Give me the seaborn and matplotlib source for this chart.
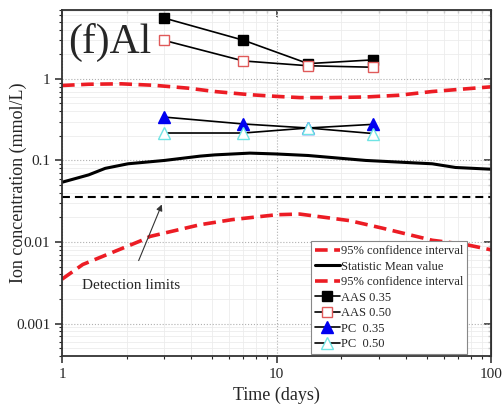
import numpy as np
import pandas as pd
import matplotlib
matplotlib.use("Agg")
import matplotlib.pyplot as plt
import seaborn as sns

# time (days) for the measured series
days = [3, 7, 14, 28]
aas_035 = [5.56, 2.98, 1.54, 1.71]
aas_050 = [2.96, 1.66, 1.45, 1.39]
pc_035 = [0.34, 0.28, 0.25, 0.277]
pc_050 = [0.217, 0.217, 0.25, 0.214]

# statistic mean curve
t_mean = [1, 1.33, 1.59, 2.03, 3.0, 4.4, 5.15, 7.5, 10, 14, 26, 53, 68, 100]
mean_val = [0.054, 0.0665, 0.080, 0.091, 0.100, 0.113, 0.117, 0.123, 0.120, 0.115, 0.100, 0.091, 0.082, 0.078]

# 95% confidence interval, upper
t_up = [1, 1.33, 1.89, 2.7, 3.86, 5.15, 7.5, 10, 12.8, 17.6, 26, 37, 53, 100]
ci_up = [0.83, 0.86, 0.87, 0.834, 0.77, 0.70, 0.64, 0.61, 0.59, 0.59, 0.60, 0.63, 0.70, 0.80]

# 95% confidence interval, lower
t_low = [1, 1.25, 2.38, 2.57, 4.4, 6.2, 10, 12.8, 21.8, 31, 53, 76, 100]
ci_low = [0.0035, 0.0053, 0.0106, 0.0117, 0.0163, 0.0188, 0.0216, 0.022, 0.0183, 0.0148, 0.0105, 0.0093, 0.0080]

detection_limit = 0.036

sns.set_style("ticks")
plt.rcParams['font.family'] = ['Liberation Serif', 'DejaVu Serif']
plt.rcParams['mathtext.fontset'] = 'stix'

fig = plt.figure(figsize=(5.04, 4.09), dpi=100)
ax = fig.add_axes([0.123, 0.1296, 0.852, 0.846])

red = '#ec1c24'
sns.lineplot(x=t_up, y=ci_up, ax=ax, color=red, lw=2.6,
             linestyle=(0, (3.5, 1.8)), sort=False, estimator=None,
             label='95% confidence interval')
sns.lineplot(x=t_mean, y=mean_val, ax=ax, color='black', lw=2.2,
             sort=False, estimator=None, label='Statistic Mean value')
sns.lineplot(x=t_low, y=ci_low, ax=ax, color=red, lw=2.6,
             linestyle=(0, (3.5, 1.8)), sort=False, estimator=None,
             label='95% confidence interval')
ax.axhline(detection_limit, color='black', lw=1.5, linestyle=(0, (3.8, 2.4)))

sns.lineplot(x=days, y=aas_035, ax=ax, color='black', lw=1.2, marker='s',
             markersize=7, mfc='black', mec='black', mew=1.0,
             estimator=None, label='AAS 0.35')
sns.lineplot(x=days, y=aas_050, ax=ax, color='black', lw=1.2, marker='s',
             markersize=7, mfc='white', mec='#e05a5a', mew=1.0,
             estimator=None, label='AAS 0.50')
sns.lineplot(x=days, y=pc_035, ax=ax, color='black', lw=1.2, marker='^',
             markersize=8.5, mfc='#0000f0', mec='#0000f0', mew=1.0,
             estimator=None, label='PC  0.35')
sns.lineplot(x=days, y=pc_050, ax=ax, color='black', lw=1.2, marker='^',
             markersize=8.5, mfc='white', mec='#70e4e4', mew=1.0,
             estimator=None, label='PC  0.50')

ax.set_xscale('log')
ax.set_yscale('log')
ax.set_xlim(1, 100)
ax.set_ylim(4e-4, 7)

ax.set_xticks([1, 10, 100])
ax.set_xticklabels(['1', '10', '100'])
ax.set_yticks([0.001, 0.01, 0.1, 1])
ax.set_yticklabels(['0.001', '0.01', '0.1', '1'])

ax.grid(which='major', color='#b0b0b0', ls=':', lw=0.8)
ax.grid(which='minor', color='#ececec', ls='-', lw=0.6)
ax.set_axisbelow(True)

for s in ax.spines.values():
    s.set_linewidth(1.3)
    s.set_color('#333333')

ax.tick_params(which='major', direction='out', length=5, width=1.1, labelsize=11)
ax.tick_params(which='minor', direction='out', length=2.5, width=0.8)

# inward ticks on the top and right sides
top = ax.secondary_xaxis('top', functions=(lambda v: v, lambda v: v))
top.tick_params(which='major', direction='in', length=5, width=1.1, labeltop=False)
top.tick_params(which='minor', direction='in', length=2.5, width=0.8)
right = ax.secondary_yaxis('right', functions=(lambda v: v, lambda v: v))
right.tick_params(which='major', direction='in', length=5, width=1.1, labelright=False)
right.tick_params(which='minor', direction='in', length=2.5, width=0.8)

ax.set_xlabel('Time (days)', fontsize=13)
ax.set_ylabel('Ion concentration (mmol/L)', fontsize=13)
ax.yaxis.set_label_coords(-0.082, 0.5)

ax.text(0.014, 0.905, '(f)Al', transform=ax.transAxes, fontsize=30,
        ha='left', va='center')

ax.annotate('', xy=(2.95, 0.031), xytext=(2.25, 0.0055),
            arrowprops=dict(arrowstyle='-|>', color='#333333', lw=0.8,
                            mutation_scale=9))
ax.text(1.24, 0.0029, 'Detection limits', fontsize=11, ha='left', va='center')

leg = ax.legend(loc='lower left', bbox_to_anchor=(0.58, 0.006), fontsize=9,
                frameon=True, fancybox=False, framealpha=1, edgecolor='#888888',
                borderpad=0.3, handlelength=2.0, handletextpad=0.1,
                labelspacing=0.28, borderaxespad=0.0)
leg.get_frame().set_linewidth(0.8)

fig.savefig('out.png', dpi=100)
